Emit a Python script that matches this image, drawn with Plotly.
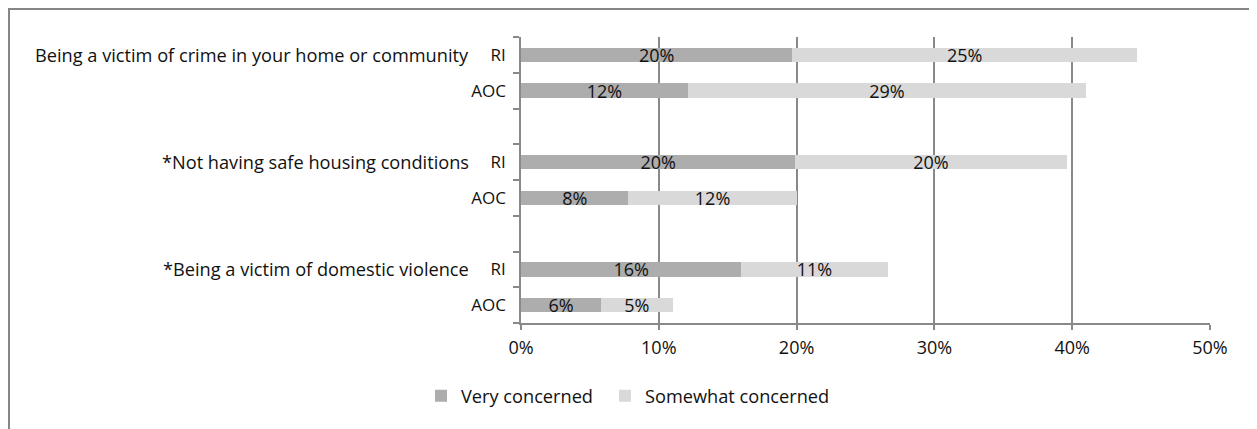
import plotly.graph_objects as go

# ---- data ----
row_ids = ["crime_RI", "crime_AOC", "gap1", "housing_RI", "housing_AOC", "gap2", "dv_RI", "dv_AOC"]
row_labels = ["RI", "AOC", "", "RI", "AOC", "", "RI", "AOC"]
very_concerned = [19.7, 12.1, None, 19.9, 7.8, None, 16.0, 5.8]
somewhat_concerned = [25.0, 28.9, None, 19.7, 12.2, None, 10.6, 5.2]
group_labels = ["Being a victim of crime in your home or community",
                "*Not having safe housing conditions",
                "*Being a victim of domestic violence"]
group_rows = ["crime_RI", "housing_RI", "dv_RI"]
x_ticks = [0, 10, 20, 30, 40, 50]
series_names = ["Very concerned", "Somewhat concerned"]

FONT = "Open Sans"
FS = 17        # RI / AOC labels
TXT_FS = 18.2  # long labels and legend
NUM_FS = 18    # percentages
GRID = "#898989"
OFF = 8  # page body margin
W, H = 1257 - OFF, 429 - OFF
L, R, T, B = 521 - OFF, 47, 37 - OFF, 106
pw, ph = W - L - R, H - T - B


def px_x(p):
    return (p - OFF - L) / pw


def px_y(p):
    return (H - B - (p - OFF)) / ph


fig = go.Figure()
legend_ids = ["legend", "legend2"]
for name, vals, col, lg in [(series_names[0], very_concerned, "#ADADAD", legend_ids[0]),
                            (series_names[1], somewhat_concerned, "#D9D9D9", legend_ids[1])]:
    fig.add_trace(go.Bar(
        y=row_ids, x=vals, name=name, orientation="h",
        marker=dict(color=col, line=dict(width=0)),
        texttemplate="%{x:.0f}%", textposition="inside",
        insidetextanchor="middle", constraintext="none",
        textfont=dict(family=FONT, size=NUM_FS, color="#111111"),
        hoverinfo="skip", width=0.4, legend=lg,
    ))

for txt, row in zip(group_labels, group_rows):
    fig.add_annotation(text=txt, xref="paper", yref="y", x=px_x(471), y=row,
                       xanchor="right", yanchor="middle", showarrow=False,
                       font=dict(family=FONT, size=TXT_FS, color="#111111"))

# outer chart border (top and left visible)
fig.add_shape(type="rect", xref="paper", yref="paper",
              x0=px_x(9), x1=px_x(1300), y0=px_y(480), y1=px_y(9),
              line=dict(color="#868686", width=2), fillcolor="rgba(0,0,0,0)", layer="below")

leg_common = dict(orientation="h", y=px_y(396), xanchor="left", yanchor="middle",
                  font=dict(family=FONT, size=TXT_FS, color="#111111"), itemwidth=30,
                  bgcolor="rgba(0,0,0,0)")

fig.update_layout(
    barmode="stack",
    width=W, height=H,
    margin=dict(l=L, r=R, t=T, b=B),
    paper_bgcolor="white", plot_bgcolor="white",
    font=dict(family=FONT, size=FS, color="#111111"),
    showlegend=True,
    legend=dict(x=px_x(421), **leg_common),
    legend2=dict(x=px_x(605), **leg_common),
    xaxis=dict(range=[0, 50], tickvals=x_ticks, ticktext=[f"{v}%" for v in x_ticks],
               tickfont=dict(family=FONT, size=NUM_FS, color="#111111"),
               showgrid=True, gridcolor=GRID, gridwidth=1.5,
               showline=True, linecolor=GRID, linewidth=1.5,
               ticks="outside", ticklen=5, tickcolor=GRID, tickwidth=1.5,
               ticklabelstandoff=3, zeroline=False, fixedrange=True),
    yaxis=dict(type="category", categoryorder="array", categoryarray=row_ids,
               autorange="reversed", tickvals=row_ids, ticktext=row_labels,
               tickson="boundaries", ticks="outside", ticklen=6, tickcolor=GRID, tickwidth=1.5,
               showline=True, linecolor=GRID, linewidth=1.5, showgrid=False,
               ticklabelstandoff=10, fixedrange=True),
)

fig.write_html("out.html")
